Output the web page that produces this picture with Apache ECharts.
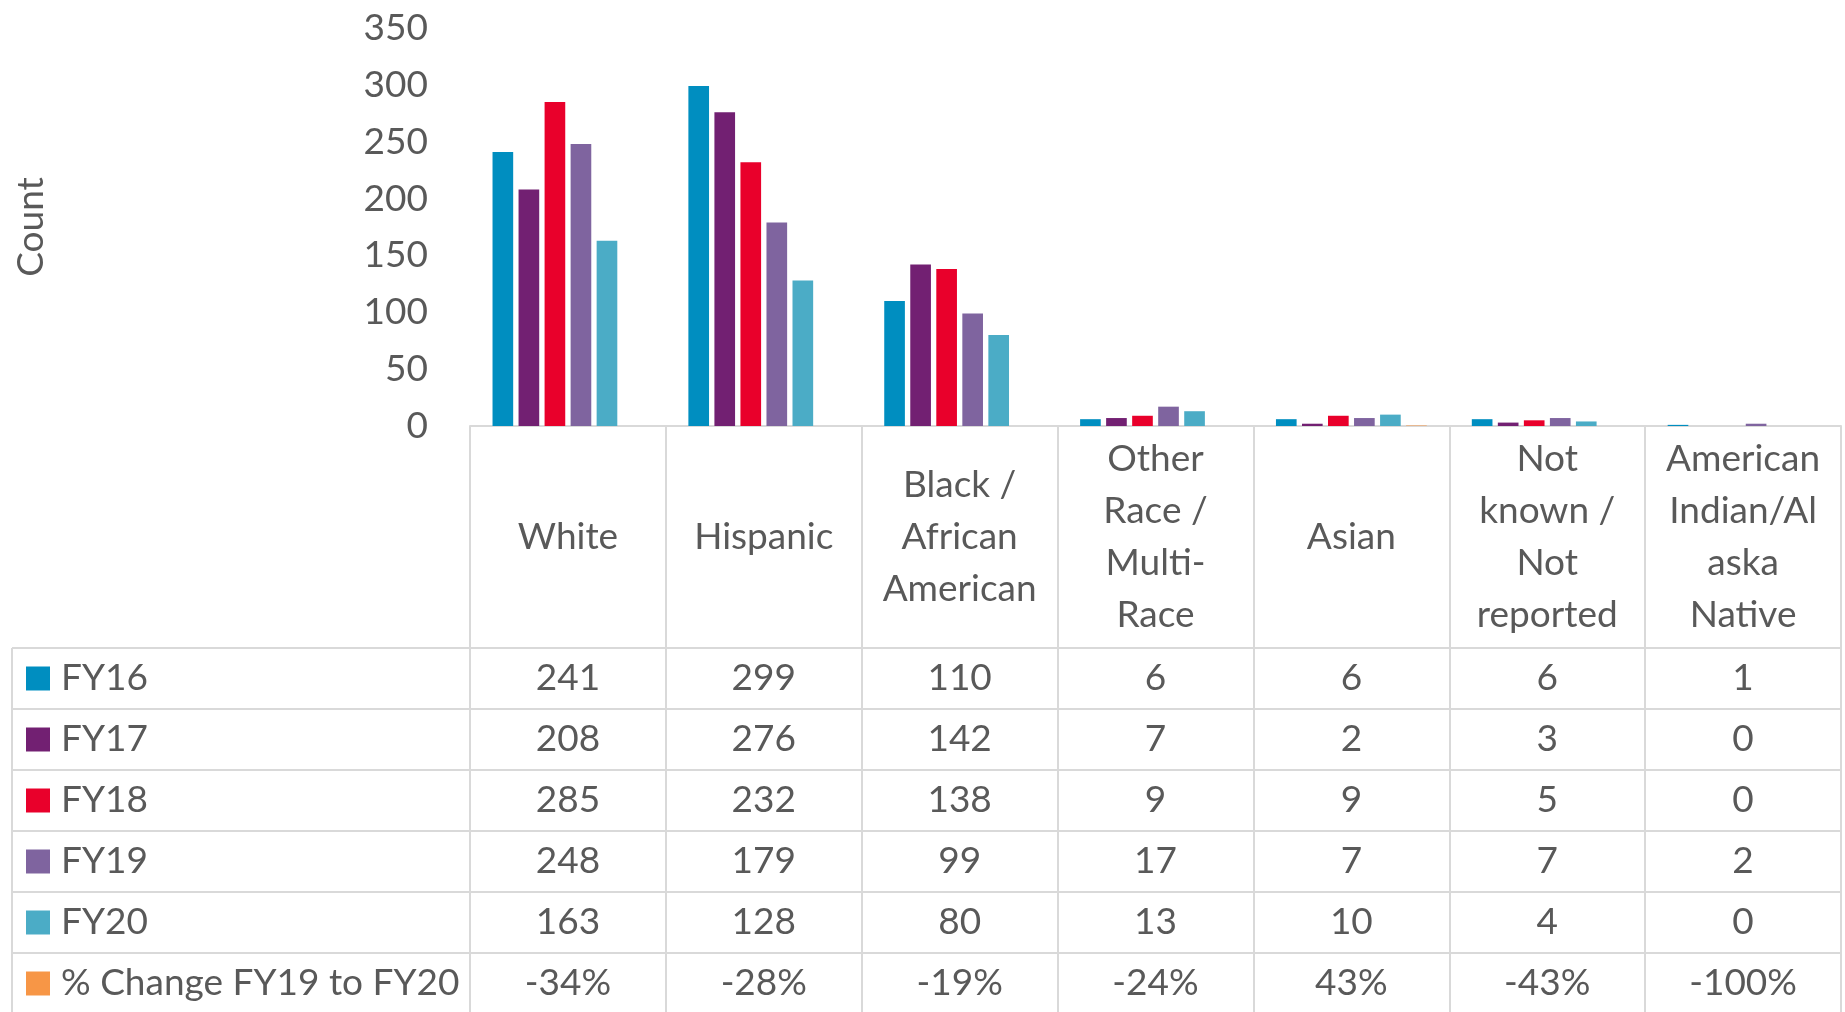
<!DOCTYPE html>
<html>
<head>
<meta charset="utf-8">
<script src="https://cdn.jsdelivr.net/npm/echarts@6/dist/echarts.min.js"></script>
<style>
html, body { margin: 0; padding: 0; background: #fff; }
#chart { width: 1845px; height: 1012px; }
</style>
</head>
<body>
<div id="chart"></div>
<script>
const categories = ['White', 'Hispanic', 'Black / African American', 'Other Race / Multi-Race', 'Asian', 'Not known / Not reported', 'American Indian/Alaska Native'];
// wrapped the same way as the header cells of the data table
const categoryLabels = ['White', 'Hispanic', 'Black /\nAfrican\nAmerican', 'Other\nRace /\nMulti-\nRace', 'Asian', 'Not\nknown /\nNot\nreported', 'American\nIndian/Al\naska\nNative'];
const fy16 = [241, 299, 110, 6, 6, 6, 1];
const fy17 = [208, 276, 142, 7, 2, 3, 0];
const fy18 = [285, 232, 138, 9, 9, 5, 0];
const fy19 = [248, 179, 99, 17, 7, 7, 2];
const fy20 = [163, 128, 80, 13, 10, 4, 0];
const pctChange = [-34, -28, -19, -24, 43, -43, -100];
const yMin = 0, yMax = 350, yInterval = 50;

const rows = [
    { name: 'FY16', color: '#008ec0', data: fy16, fmt: v => v },
    { name: 'FY17', color: '#722072', data: fy17, fmt: v => v },
    { name: 'FY18', color: '#e9002b', data: fy18, fmt: v => v },
    { name: 'FY19', color: '#7f649f', data: fy19, fmt: v => v },
    { name: 'FY20', color: '#4bacc6', data: fy20, fmt: v => v },
    // plotted as a fraction on the count axis, like the original workbook, so it barely shows
    { name: '% Change FY19 to FY20', color: '#f79646', data: pctChange.map(v => v / 100), fmt: v => Math.round(v * 100) + '%' }
];

const FONT = 'Lato';
const TXT = '#595959';
const LINE = '#d9d9d9';
const tableLeft = 12, tableRight = 1841;
const headTop = 426, rowTop = 648, rowH = 61;

const chart = echarts.init(document.getElementById('chart'));

chart.setOption({
    animation: false,
    textStyle: { fontFamily: FONT },
    grid: { left: 470, right: 4, top: 28, bottom: 586 },
    xAxis: {
        type: 'category',
        data: categories,
        axisLine: { lineStyle: { color: LINE, width: 2 } },
        axisTick: { show: true, interval: 0, length: 1012 - headTop, lineStyle: { color: LINE, width: 2 } },
        axisLabel: {
            interval: 0,
            formatter: (v, i) => categoryLabels[i],
            color: TXT,
            fontSize: 37,
            fontFamily: FONT,
            lineHeight: 52,
            verticalAlign: 'middle',
            margin: (rowTop - headTop) / 2
        }
    },
    yAxis: {
        type: 'value',
        min: yMin,
        max: yMax,
        interval: yInterval,
        name: 'Count',
        nameLocation: 'middle',
        nameRotate: 90,
        nameGap: 420,
        nameTextStyle: { color: TXT, fontSize: 37, fontFamily: FONT },
        axisLine: { show: false },
        axisTick: { show: false },
        splitLine: { show: false },
        axisLabel: { color: TXT, fontSize: 37, fontFamily: FONT, margin: 42 }
    },
    series: rows.map(r => ({
        name: r.name,
        type: 'bar',
        data: r.data,
        barGap: '26%',
        barCategoryGap: '23%',
        itemStyle: { color: r.color }
    }))
});

// data table under the axis, columns follow the category axis
const g = [];
for (let i = 0; i <= rows.length; i++) {
    const y = rowTop + i * rowH;
    g.push({ type: 'line', shape: { x1: tableLeft, y1: y, x2: tableRight, y2: y }, style: { stroke: LINE, lineWidth: 2 } });
}
g.push({ type: 'line', shape: { x1: tableLeft, y1: rowTop, x2: tableLeft, y2: 1012 }, style: { stroke: LINE, lineWidth: 2 } });

rows.forEach((r, i) => {
    const cy = rowTop + i * rowH + rowH / 2;
    g.push({ type: 'rect', shape: { x: 26, y: cy - 12, width: 24, height: 24 }, style: { fill: r.color } });
    g.push({ type: 'text', style: { text: r.name, x: 61, y: cy, fontSize: 37, fontFamily: FONT, fill: TXT, align: 'left', verticalAlign: 'middle' } });
    const src = r.name.startsWith('%') ? pctChange.map(v => v / 100) : r.data;
    categories.forEach((c, j) => {
        const cx = chart.convertToPixel({ xAxisIndex: 0 }, c);
        g.push({ type: 'text', style: { text: String(r.fmt(src[j])), x: cx, y: cy, fontSize: 37, fontFamily: FONT, fill: TXT, align: 'center', verticalAlign: 'middle' } });
    });
});

chart.setOption({ graphic: g });
</script>
</body>
</html>
